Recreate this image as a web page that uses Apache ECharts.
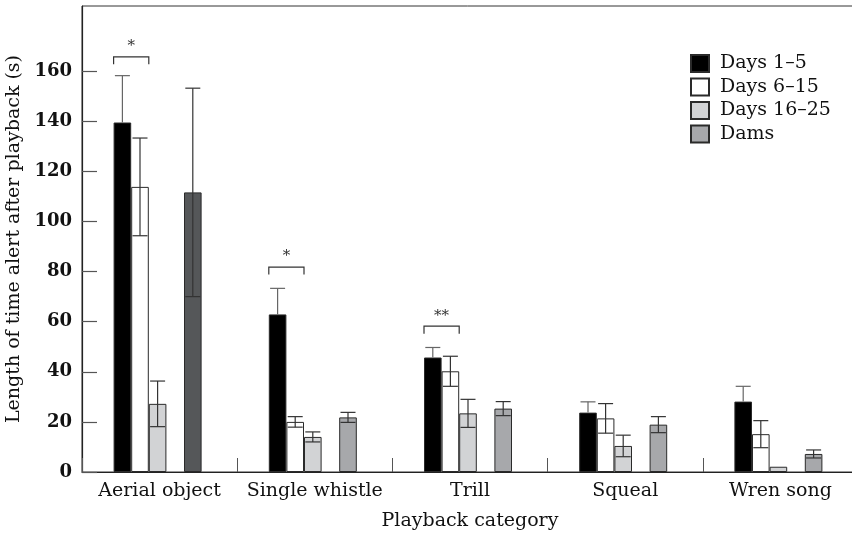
<!DOCTYPE html>
<html>
<head>
<meta charset="utf-8">
<script src="https://cdn.jsdelivr.net/npm/echarts@6/dist/echarts.min.js"></script>
<style>
html,body{margin:0;padding:0;background:#fff;}
#chart{width:852px;height:537px;}
</style>
</head>
<body>
<div id="chart"></div>
<script>
const categories = ['Aerial object', 'Single whistle', 'Trill', 'Squeal', 'Wren song'];
const seriesNames = ['Days 1–5', 'Days 6–15', 'Days 16–25', 'Dams'];
const days1to5 = [139.5, 62.9, 45.7, 23.7, 28.1];
const days1to5Err = [18.7, 10.4, 4.0, 4.3, 6.1];
const days6to15 = [113.8, 20.0, 40.2, 21.4, 15.1];
const days6to15Err = [19.5, 2.1, 6.0, 5.9, 5.4];
const days16to25 = [27.2, 14.0, 23.4, 10.4, 2.1];
const days16to25Err = [9.1, 2.0, 5.6, 4.3, 0];
const dams = [111.6, 21.8, 25.3, 18.9, 7.2];
const damsErr = [41.6, 2.0, 2.8, 3.2, 1.6];
const yTicks = [0, 20, 40, 60, 80, 100, 120, 140, 160];
const sigCategories = [0, 1, 2];
const sigLevels = [165.7, 81.8, 58.2];
const sigLabels = ['*', '*', '**'];

const FONT = 'DejaVu Serif';
const BAR_W = 17.6;
const TAIL_W = 4;
const SLOTS = [0, 1, 2, 4];
const GROUP_W = 5 * BAR_W + TAIL_W;

const means = [days1to5, days6to15, days16to25, dams];
const errs = [days1to5Err, days6to15Err, days16to25Err, damsErr];
const colors = ['#000000', '#ffffff', '#d2d3d5', '#a7a8ab'];

const errData = [];
means.forEach((arr, si) => arr.forEach((m, ci) => errData.push([ci, si, m, errs[si][ci]])));
const sigData = sigCategories.map((c, i) => [c, sigLevels[i], sigLabels[i]]);

function slotCenter(center, slot) {
  return center - GROUP_W / 2 + (slot + 0.5) * BAR_W;
}

const barSeries = [];
seriesNames.forEach((name, si) => {
  if (si === 3) {
    barSeries.push({ type: 'bar', name: '_gap', data: categories.map(() => null), barWidth: BAR_W, barGap: '0%', silent: true });
  }
  barSeries.push({
    type: 'bar',
    name: name,
    barWidth: BAR_W,
    barGap: '0%',
    itemStyle: { color: colors[si], borderColor: '#2a2a2a', borderWidth: 1 },
    data: means[si].map((v, ci) => (si === 3 && ci === 0) ? { value: v, itemStyle: { color: '#555759' } } : v)
  });
});
barSeries.push({ type: 'bar', name: '_tail', data: categories.map(() => null), barWidth: TAIL_W, barGap: '0%', silent: true });

const yBase = { type: 'value', min: 0, max: 186, interval: 20, splitLine: { show: false } };

const chart = echarts.init(document.getElementById('chart'), null, { renderer: 'canvas' });
chart.setOption({
  animation: false,
  backgroundColor: '#fff',
  grid: { left: 82, top: 6, width: 776, height: 466, show: true, borderColor: '#333', borderWidth: 1, containLabel: false, outerBoundsMode: 'none' },
  legend: {
    data: seriesNames,
    orient: 'vertical',
    left: 690, top: 54,
    itemWidth: 18, itemHeight: 17, itemGap: 4.5,
    padding: 0,
    icon: 'rect',
    textStyle: { fontFamily: FONT, fontSize: 19, color: '#111', padding: [0, 0, 0, 6] }
  },
  xAxis: {
    type: 'category',
    data: categories,
    name: 'Playback category',
    nameLocation: 'middle',
    nameGap: 40,
    nameTextStyle: { fontFamily: FONT, fontSize: 19, color: '#111' },
    axisLine: { show: true, lineStyle: { color: '#222', width: 1.2 } },
    axisTick: { show: true, inside: true, length: 14, interval: 0, lineStyle: { color: '#555', width: 1 } },
    axisLabel: { fontFamily: FONT, fontSize: 19, color: '#111', margin: 10, interval: 0 }
  },
  yAxis: [
    Object.assign({}, yBase, {
      name: 'Length of time alert after playback (s)',
      nameLocation: 'middle',
      nameGap: 50,
      nameTextStyle: { fontFamily: FONT, fontSize: 19, color: '#111' },
      axisLine: { show: true, lineStyle: { color: '#222', width: 1.2 } },
      axisTick: { show: false },
      axisLabel: { fontFamily: FONT, fontSize: 18, fontWeight: 'bold', color: '#111', margin: 10, customValues: yTicks }
    }),
    Object.assign({}, yBase, {
      position: 'left',
      offset: 0,
      axisLine: { show: false },
      axisLabel: { show: false },
      axisTick: { show: true, inside: true, length: 15, customValues: yTicks, lineStyle: { color: '#555', width: 1.2 } }
    })
  ],
  series: barSeries.concat([
    {
      type: 'custom',
      name: 'errors',
      data: errData,
      z: 5,
      silent: true,
      renderItem: function (params, api) {
        const ci = api.value(0), si = api.value(1), m = api.value(2), e = api.value(3);
        if (!e) return null;
        const x = slotCenter(api.coord([ci, 0])[0], SLOTS[si]);
        const yTop = api.coord([ci, m + e])[1];
        const yMean = api.coord([ci, m])[1];
        const yBot = api.coord([ci, Math.max(0, m - e)])[1];
        const stroke = si === 0 ? '#666' : '#333';
        const half = 7.5;
        const children = [
          { type: 'line', shape: { x1: x, y1: yTop, x2: x, y2: si === 0 ? yMean : yBot }, style: { stroke: stroke, lineWidth: 1.2 } },
          { type: 'line', shape: { x1: x - half, y1: yTop, x2: x + half, y2: yTop }, style: { stroke: stroke, lineWidth: 1.2 } }
        ];
        if (si !== 0) {
          children.push({ type: 'line', shape: { x1: x - half, y1: yBot, x2: x + half, y2: yBot }, style: { stroke: stroke, lineWidth: 1.2 } });
        }
        return { type: 'group', children: children };
      }
    },
    {
      type: 'custom',
      name: 'significance',
      data: sigData,
      z: 5,
      silent: true,
      renderItem: function (params, api) {
        const ci = api.value(0), lvl = api.value(1);
        const label = sigData[params.dataIndex][2];
        const center = api.coord([ci, 0])[0];
        const x1 = slotCenter(center, 0) - BAR_W / 2;
        const x2 = slotCenter(center, 1) + BAR_W / 2;
        const y = api.coord([ci, lvl])[1];
        return {
          type: 'group',
          children: [
            { type: 'polyline', shape: { points: [[x1, y + 7.5], [x1, y], [x2, y], [x2, y + 7.5]] }, style: { stroke: '#333', lineWidth: 1.2, fill: null } },
            { type: 'text', style: { x: (x1 + x2) / 2, y: y - 10.5, text: label, font: '15px "DejaVu Serif"', fill: '#333', align: 'center', verticalAlign: 'middle' } }
          ]
        };
      }
    }
  ])
});
</script>
</body>
</html>
